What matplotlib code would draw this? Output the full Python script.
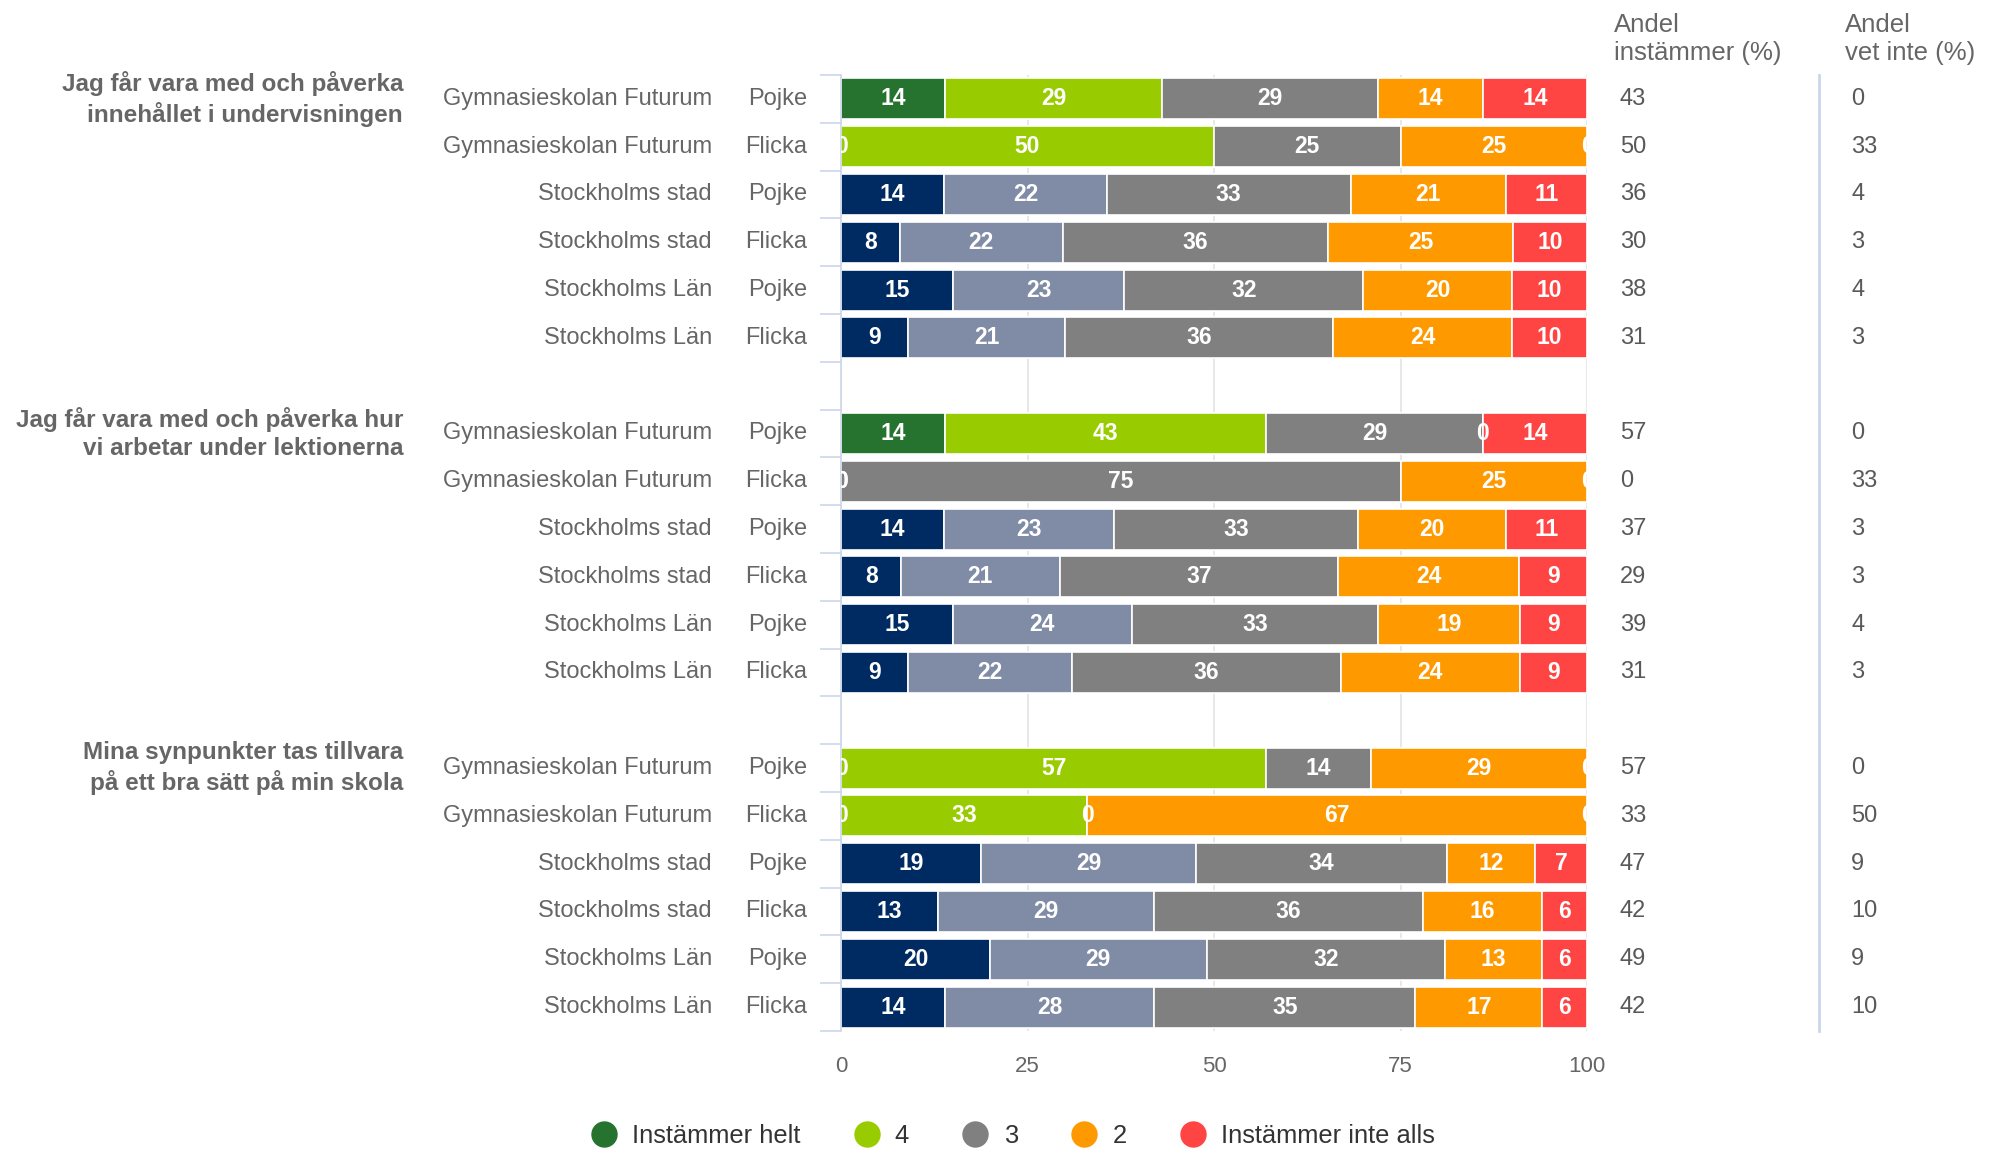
import numpy as np
import matplotlib
matplotlib.use("Agg")
import matplotlib.pyplot as plt
from matplotlib.lines import Line2D
import matplotlib.transforms as mtransforms

plt.rcParams["font.family"] = ["Liberation Sans", "DejaVu Sans"]

# questions (one group of six rows each)
questions = [
    "Jag får vara med och påverka\ninnehållet i undervisningen",
    "Jag får vara med och påverka hur\nvi arbetar under lektionerna",
    "Mina synpunkter tas tillvara\npå ett bra sätt på min skola",
]
units = ["Gymnasieskolan Futurum", "Gymnasieskolan Futurum",
         "Stockholms stad", "Stockholms stad",
         "Stockholms Län", "Stockholms Län"]
genders = ["Pojke", "Flicka"] * 3

series_names = ["Instämmer helt", "4", "3", "2", "Instämmer inte alls"]

# answer shares, 18 rows (3 questions x 6 rows)
helt = [14, 0, 14, 8, 15, 9,
        14, 0, 14, 8, 15, 9,
        0, 0, 19, 13, 20, 14]
fyra = [29, 50, 22, 22, 23, 21,
        43, 0, 23, 21, 24, 22,
        57, 33, 29, 29, 29, 28]
tre = [29, 25, 33, 36, 32, 36,
       29, 75, 33, 37, 33, 36,
       14, 0, 34, 36, 32, 35]
tva = [14, 25, 21, 25, 20, 24,
       0, 25, 20, 24, 19, 24,
       29, 67, 12, 16, 13, 17]
inte_alls = [14, 0, 11, 10, 10, 10,
             14, 0, 11, 9, 9, 9,
             0, 0, 7, 6, 6, 6]

andel_instammer = [43, 50, 36, 30, 38, 31,
                   57, 0, 37, 29, 39, 31,
                   57, 33, 47, 42, 49, 42]
andel_vet_inte = [0, 33, 4, 3, 4, 3,
                  0, 33, 3, 3, 4, 3,
                  0, 50, 9, 10, 9, 10]

school_colors = ["#26732F", "#99CC00", "#808080", "#FF9900", "#FF4444"]
region_colors = ["#002B62", "#808BA6", "#808080", "#FF9900", "#FF4444"]

W, H = 1994, 1149
fig = plt.figure(figsize=(W / 100, H / 100), dpi=100)
ax = fig.add_axes([841 / W, 1 - 1031 / H, (1587 - 841) / W, (1031 - 75) / H])

data = np.array([helt, fyra, tre, tva, inte_alls], dtype=float).T
n_rows = len(units)

ypos = []
for g in range(len(questions)):
    for r in range(n_rows):
        ypos.append(g * (n_rows + 1) + r)

for i, row in enumerate(data):
    y = ypos[i]
    unit = units[i % n_rows]
    cols = school_colors if unit.startswith("Gymnasieskolan") else region_colors
    total = row.sum()
    left = 0.0
    for k, v in enumerate(row):
        w = v / total * 100
        if w > 0:
            ax.barh(y, w, left=left, height=0.86, color=cols[k],
                    edgecolor="white", linewidth=1.2, zorder=2)
        ax.text(left + w / 2, y, f"{int(v)}", ha="center", va="center",
                color="white", fontsize=16.5, fontweight="bold",
                clip_on=True, zorder=3)
        left += w

ax.set_xlim(0, 100)
ax.set_ylim(3 * (n_rows + 1) - 1 - 0.5, -0.5)
ax.set_xticks([0, 25, 50, 75, 100])
ax.tick_params(axis="x", length=0, pad=18, labelsize=16, labelcolor="#666666")
ax.grid(axis="x", color="#e6e6e6", linewidth=1.3)
ax.set_axisbelow(True)

ax.set_yticks([])
ax.set_yticks(np.arange(-0.5, 3 * (n_rows + 1) - 1, 1), minor=True)
ax.tick_params(axis="y", which="minor", length=15, width=1.2,
               color="#ccd6eb", labelleft=False)
for s in ["top", "right", "bottom"]:
    ax.spines[s].set_visible(False)
ax.spines["left"].set_color("#ccd6eb")
ax.spines["left"].set_linewidth(1.2)

# row labels
tr = mtransforms.blended_transform_factory(fig.transFigure, ax.transData)
for i, y in enumerate(ypos):
    fig.text(712 / W, y, units[i % n_rows], transform=tr, ha="right",
             va="center", fontsize=17, color="#666666")
    fig.text(807 / W, y, genders[i % n_rows], transform=tr, ha="right",
             va="center", fontsize=17, color="#666666")
    fig.text(1620 / W, y, str(andel_instammer[i]), transform=tr, ha="left",
             va="center", fontsize=17, color="#595959")
    fig.text(1851 / W, y, str(andel_vet_inte[i]), transform=tr, ha="left",
             va="center", fontsize=17, color="#595959")

for g, q in enumerate(questions):
    fig.text(403 / W, g * (n_rows + 1), q, transform=tr, ha="right",
             va="center", multialignment="right", fontsize=17.5,
             fontweight="bold", color="#666666", linespacing=1.3)

# column headers
fig.text(1614 / W, 1 - 39 / H, "Andel\ninstämmer (%)", ha="left", va="center",
         fontsize=18.5, color="#666666", linespacing=1.25)
fig.text(1845 / W, 1 - 39 / H, "Andel\nvet inte (%)", ha="left", va="center",
         fontsize=18.5, color="#666666", linespacing=1.25)
fig.add_artist(Line2D([1819 / W, 1819 / W], [1 - 75 / H, 1 - 1031 / H],
                      transform=fig.transFigure, color="#ccd6eb", linewidth=2))

# legend
handles = [Line2D([], [], marker="o", linestyle="", markersize=18, color=c)
           for c in school_colors]
fig.legend(handles, series_names, loc="center", bbox_to_anchor=(0.508, 0.011),
           ncol=5, frameon=False, fontsize=18.4, labelcolor="#333333",
           handlelength=1.0, handletextpad=0.6, columnspacing=2.1,
           borderpad=0)

fig.savefig("out.png", dpi=100)
